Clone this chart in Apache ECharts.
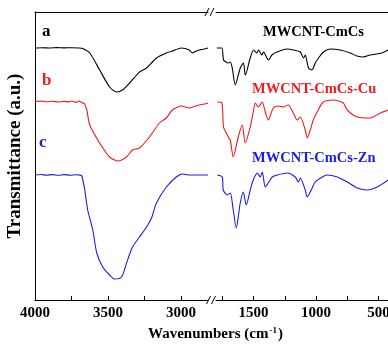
<!DOCTYPE html>
<html>
<head>
<meta charset="utf-8">
<script src="https://cdn.jsdelivr.net/npm/echarts@6/dist/echarts.min.js"></script>
<style>html,body{margin:0;padding:0;background:#fff}#c{width:388px;height:348px}</style>
</head>
<body>
<div id="c"></div>
<script>
// Tick values (cm-1)
const highLabels = [4000, 3500, 3000];
const highTicks = [4000, 3750, 3500, 3250, 3000];
const lowLabels = [1500, 1000, 500];
const lowTicks = [1750, 1500, 1250, 1000, 750, 500];

// Spectrum a: MWCNT-CmCs  [wavenumber, transmittance (offset a.u.)]
const aHigh = [[4000,252],[3950,252.3],[3900,252],[3850,252.4],[3800,252.1],[3750,252.3],[3700,252],[3673,251.5],[3625,247],[3557,230],[3489,213],[3441,208],[3400,210],[3352,217],[3304,225],[3284,228],[3236,232],[3168,242],[3100,247],[3059,249],[2997,252],[2943,250],[2922,247],[2895,249],[2875,250],[2841,251],[2815,252]];
const aLow = [[1793,252],[1753,252],[1740,240],[1720,238],[1700,237],[1686,238],[1670,232],[1646,215],[1606,232],[1580,237],[1566,225],[1526,242],[1500,250],[1473,247],[1460,250],[1433,245],[1420,248],[1380,240],[1353,245],[1313,248],[1233,251],[1180,250],[1126,248],[1100,242],[1086,245],[1060,232],[1033,230],[1006,237],[980,242],[940,248],[886,251],[806,250],[726,247],[673,244],[622,243],[566,245],[473,247],[422,250]];

// Spectrum b: MWCNT-CmCs-Cu
const bHigh = [[4000,198.5],[3960,198.9],[3920,198.2],[3880,198.7],[3840,198],[3800,198.6],[3770,198.1],[3748,199],[3720,197.6],[3700,199],[3680,197.5],[3660,196],[3645,190],[3625,175],[3557,157],[3489,143],[3434,139],[3373,143],[3332,150],[3284,152],[3216,163],[3148,177],[3100,182],[3059,190],[2997,194],[2943,192],[2900,194],[2875,195],[2840,196],[2815,197]];
const bLow = [[1790,198],[1753,197],[1740,173],[1718,167],[1702,163],[1686,160],[1662,143],[1622,163],[1590,175],[1566,157],[1526,173],[1502,188],[1486,197],[1462,193],[1430,198],[1406,188],[1382,180],[1342,192],[1302,194],[1262,193],[1222,195],[1182,187],[1150,180],[1126,183],[1086,170],[1070,162],[1046,170],[1022,180],[982,190],[942,198],[862,200],[782,197],[750,190],[670,183],[566,182],[486,187],[422,190]];

// Spectrum c: MWCNT-CmCs-Zn
const cHigh = [[4000,125],[3960,125.5],[3920,124.8],[3880,125.4],[3840,124.7],[3800,125.4],[3760,124.8],[3720,125.3],[3690,124.9],[3679,124],[3659,110],[3639,90],[3604,70],[3577,47],[3536,33],[3489,25],[3454,21],[3407,23],[3373,37],[3332,53],[3284,63],[3236,73],[3202,82],[3168,97],[3100,113],[3032,123],[2991,126],[2940,125],[2875,125],[2815,125]];
const cLow = [[1790,125],[1750,123],[1742,110],[1710,105],[1686,107],[1662,90],[1638,72],[1606,97],[1582,108],[1558,95],[1526,110],[1502,120],[1470,127],[1446,123],[1430,128],[1406,113],[1382,117],[1350,123],[1310,125],[1230,127],[1166,123],[1142,118],[1126,122],[1086,110],[1070,103],[1038,110],[1006,118],[950,123],[910,125],[830,123],[750,118],[670,112],[590,110],[510,113],[422,120]];

const names = ['MWCNT-CmCs', 'MWCNT-CmCs-Cu', 'MWCNT-CmCs-Zn'];
const letters = ['a', 'b', 'c'];
const colors = ['#000000', '#ee1c1c', '#1c1ce8'];

const FONT = '"Liberation Serif", "Times New Roman", serif';
const chart = echarts.init(document.getElementById('c'), null, {renderer: 'canvas'});

const baseX = (grid, min, max, pos, ticks, labels) => ({
  type: 'value', gridIndex: grid, min: min, max: max, inverse: true, position: pos,
  axisLine: {show: true, onZero: false, lineStyle: {color: '#000', width: 1}},
  axisTick: ticks ? {show: true, inside: true, length: 4, customValues: ticks, lineStyle: {color: '#000'}} : {show: false},
  axisLabel: labels ? {show: true, customValues: labels, margin: 6, color: '#000', fontFamily: FONT, fontWeight: 'bold', fontSize: 15,
                       formatter: v => String(v), hideOverlap: false} : {show: false},
  splitLine: {show: false}
});

const mkSeries = (data, xi, yi, color) => ({
  type: 'line', data: data, xAxisIndex: xi, yAxisIndex: yi, showSymbol: false, smooth: 0.25,
  lineStyle: {color: color, width: 1.1}, animation: false, silent: true
});

chart.setOption({
  animation: false,
  grid: [
    {left: 35, top: 12, width: 173, height: 288, outerBoundsMode: 'none', containLabel: false},
    {left: 216, top: 12, width: 172.5, height: 288, outerBoundsMode: 'none', containLabel: false}
  ],
  xAxis: [
    baseX(0, 2815, 4000, 'bottom', highTicks, highLabels),
    baseX(0, 2815, 4000, 'top', null, null),
    baseX(1, 420, 1800, 'bottom', lowTicks, lowLabels),
    baseX(1, 420, 1800, 'top', null, null)
  ],
  yAxis: [
    {type: 'value', gridIndex: 0, min: 0, max: 288, axisLine: {show: true, lineStyle: {color: '#000'}},
     axisTick: {show: false}, axisLabel: {show: false}, splitLine: {show: false},
     name: 'Transmittance (a.u.)', nameLocation: 'middle', nameGap: 10,
     nameTextStyle: {fontFamily: FONT, fontWeight: 'bold', fontSize: 19, color: '#000'}},
    {type: 'value', gridIndex: 1, min: 0, max: 288, show: false}
  ],
  series: [
    mkSeries(aHigh, 0, 0, colors[0]), mkSeries(aLow, 2, 1, colors[0]),
    mkSeries(bHigh, 0, 0, colors[1]), mkSeries(bLow, 2, 1, colors[1]),
    mkSeries(cHigh, 0, 0, colors[2]), mkSeries(cLow, 2, 1, colors[2])
  ],
  graphic: [
    {type: 'text', left: 42, top: 23, style: {text: letters[0], fill: colors[0], font: 'bold 17px ' + FONT}},
    {type: 'text', left: 42, top: 72, style: {text: letters[1], fill: colors[1], font: 'bold 17px ' + FONT}},
    {type: 'text', left: 39, top: 134, style: {text: letters[2], fill: colors[2], font: 'bold 17px ' + FONT}},
    {type: 'text', left: 263, top: 25, style: {text: names[0], fill: colors[0], font: 'bold 14.5px ' + FONT}},
    {type: 'text', left: 252, top: 82, style: {text: names[1], fill: colors[1], font: 'bold 14.5px ' + FONT}},
    {type: 'text', left: 252, top: 151, style: {text: names[2], fill: colors[2], font: 'bold 14.5px ' + FONT}},
    {type: 'text', left: 148, top: 326, style: {
      text: '{a|Wavenumbers (cm}{s|-1}{a|)}', fill: '#000',
      rich: {a: {fontFamily: FONT, fontWeight: 'bold', fontSize: 15, fill: '#000'},
             s: {fontFamily: FONT, fontWeight: 'bold', fontSize: 9, fill: '#000', verticalAlign: 'top', padding: [0, 1, 8, 1]}}}},
    {type: 'line', shape: {x1: 205, y1: 16, x2: 209, y2: 8}, style: {stroke: '#000', lineWidth: 1}},
    {type: 'line', shape: {x1: 210, y1: 16, x2: 214, y2: 8}, style: {stroke: '#000', lineWidth: 1}},
    {type: 'line', shape: {x1: 206.5, y1: 304, x2: 210.5, y2: 296}, style: {stroke: '#000', lineWidth: 1}},
    {type: 'line', shape: {x1: 211.5, y1: 304, x2: 215.5, y2: 296}, style: {stroke: '#000', lineWidth: 1}}
  ]
});
</script>
</body>
</html>
